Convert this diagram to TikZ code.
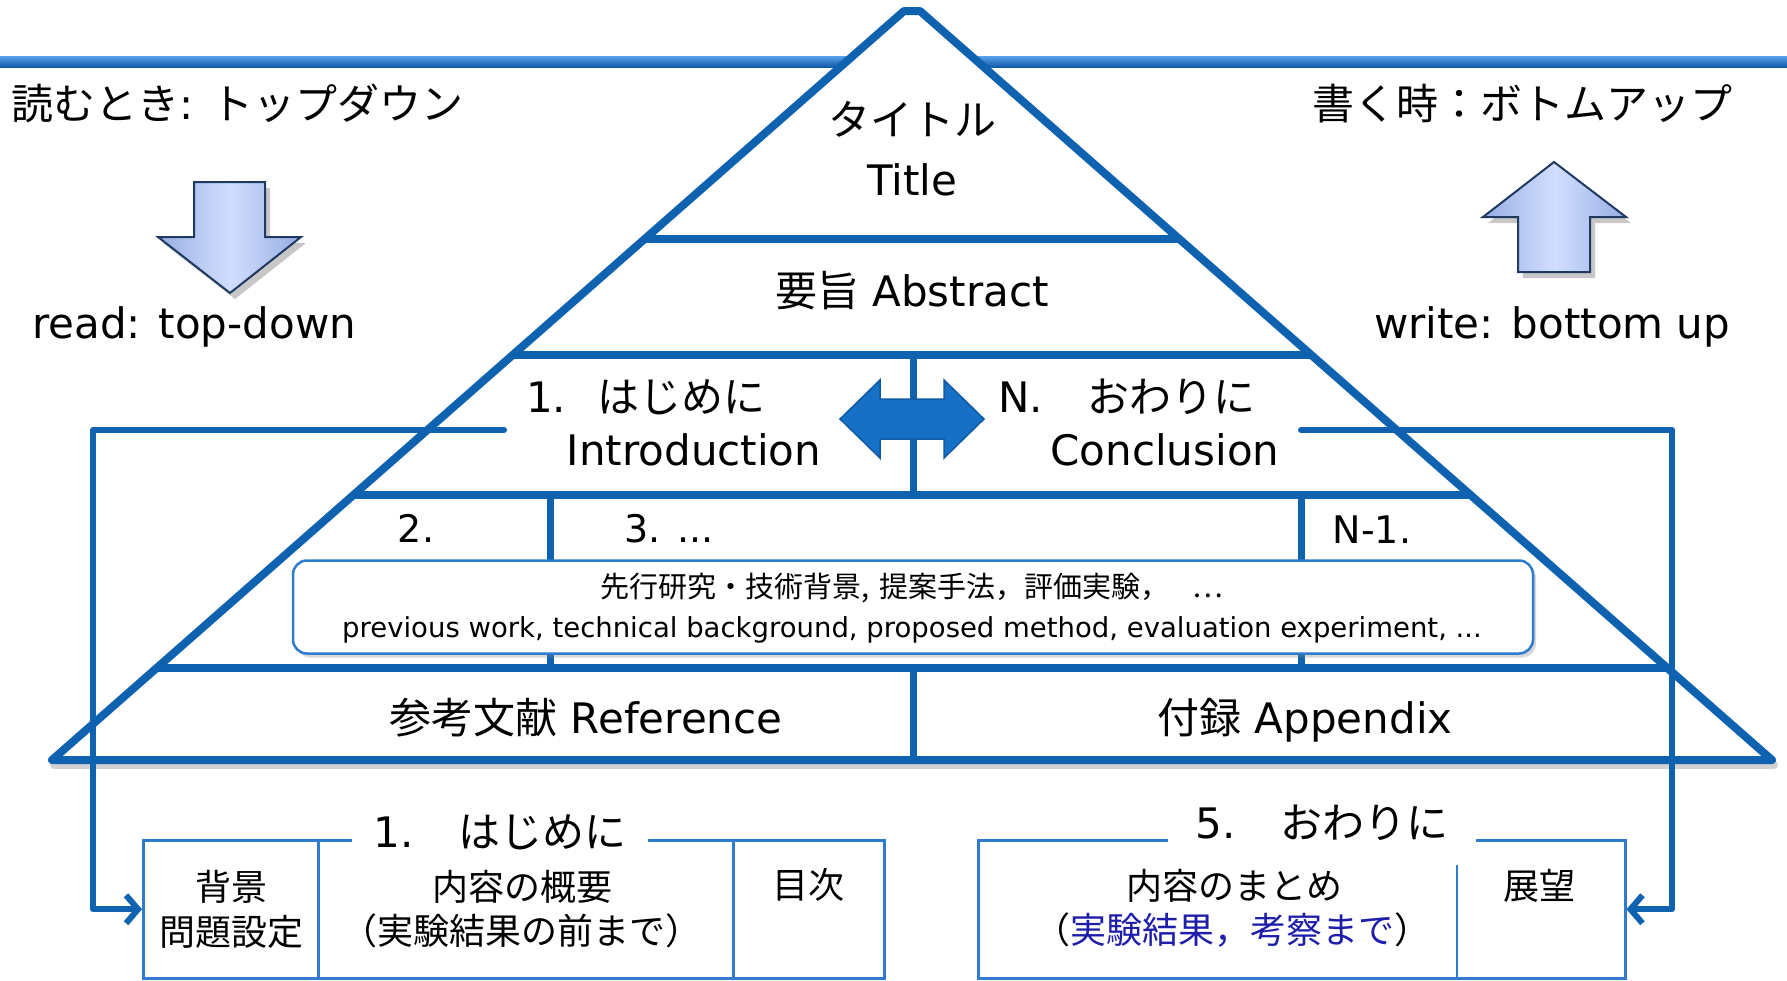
\documentclass[tikz,border=0pt]{standalone}
\usepackage{fontspec}
\setmainfont{DejaVu Sans}
\newfontfamily\jp{Noto Sans CJK JP}
\usetikzlibrary{arrows.meta,shadows,calc}
\definecolor{pblue}{HTML}{0F62B0}
\definecolor{bblue}{HTML}{2E7BD0}
\definecolor{abl}{HTML}{1570C6}
\definecolor{abd}{HTML}{0F5AA5}
\definecolor{navy}{HTML}{1F3A60}
\definecolor{tblue}{HTML}{1E1EAA}
\definecolor{toplt}{HTML}{5AA2EA}
\definecolor{topdk}{HTML}{0D5AA8}
\definecolor{arl}{HTML}{97ADE2}
\definecolor{arm}{HTML}{D2DEFF}
\newcommand{\fsz}[1]{\fontsize{#1}{#1}\selectfont}
\begin{document}
\begin{tikzpicture}[x=1pt,y=-1pt,
  pline/.style={draw=pblue,line width=8pt},
  vline/.style={draw=pblue,line width=7pt},
  conn/.style={draw=pblue,line width=6pt,line join=round,line cap=round,-{Straight Barb[length=12pt,width=28pt]}},
  cell/.style={draw=bblue,line width=2.5pt,inner sep=0,anchor=north west},
  txt/.style={inner sep=0,anchor=base,text=black},
  big/.style={txt,font=\fsz{42}},
  mid/.style={txt,font=\fsz{38}},
  sml/.style={txt,font=\fsz{36}},
  fat/.style={draw=navy,line width=2pt,line join=miter,left color=arl,right color=arl,middle color=arm},
  shd/.style={fill=black,opacity=.22},
]
\useasboundingbox (0,0) rectangle (1787,980);
\fill[white] (0,0) rectangle (1787,980);

% top line
\shade[top color=toplt,bottom color=topdk] (0,56) rectangle (1787,67);

% pyramid
\coordinate (A) at (904,11);
\coordinate (B) at (920,11);
\coordinate (L) at (52,760);
\coordinate (R) at (1772,760);
\draw[line width=8pt,black,opacity=.18,line cap=round] (54,765) -- (1774,765);
\fill[white] (L) -- (A) -- (B) -- (R) -- cycle;
\begin{scope}
\clip (L) -- (A) -- (B) -- (R) -- cycle;
\draw[pline] (0,239) -- (1787,239);
\draw[pline] (0,355) -- (1787,355);
\draw[pline] (0,495) -- (1787,495);
\draw[pline] (0,668) -- (1787,668);
\draw[vline] (913,355) -- (913,495);
\draw[vline] (550,495) -- (550,668);
\draw[vline] (1301,495) -- (1301,668);
\draw[vline] (913,668) -- (913,760);
\end{scope}
\draw[pline,line join=round] (L) -- (A) -- (B) -- (R) -- cycle;

% double arrow
\draw[fill=abl,draw=abd,line width=1.5pt]
  (840,419) -- (880,380) -- (880,399) -- (944,399) -- (944,380) -- (984,419)
  -- (944,458) -- (944,439) -- (880,439) -- (880,458) -- cycle;

% rounded box
\node[draw=bblue,line width=2.5pt,fill=white,rounded corners=14pt,minimum width=1240pt,minimum height=93pt,inner sep=0,
  drop shadow={shadow xshift=3pt,shadow yshift=-4pt,opacity=.3}] (rb) at (913,607) {};
\node[txt,font=\fsz{29}] (rb1) at (912,597) {\jp 先行研究・技術背景,\hspace{.35em}提案手法，評価実験，\hspace{.8em}…};
\node[txt,font=\fsz{27.5}] (rb2) at (912,637) {previous work, technical background, proposed method, evaluation experiment, ...};

% pyramid texts
\node[big] (tj) at (912,135) {\jp タイトル};
\node[big] (te) at (912,195) {Title};
\node[big] (ab) at (912,306) {{\jp 要旨} Abstract};
\node[big] (in1) at (646,412) {1.\hspace{.75em}{\jp はじめに}};
\node[big] (in2) at (694,465) {Introduction};
\node[big] (co1) at (1127,412) {N.\hspace{1.05em}{\jp おわりに}};
\node[big] (co2) at (1165,465) {Conclusion};
\node[mid] (s2) at (416,542) {2.};
\node[mid] (s3) at (669,542) {3. ...};
\node[mid] (sn) at (1372,543) {N-1.};
\node[big] (ref) at (586,733) {{\jp 参考文献} Reference};
\node[big] (app) at (1305,733) {{\jp 付録} Appendix};

% side texts
\node[big,anchor=base west] (rdj) at (11,119) {{\jp 読むとき}: {\jp トップダウン}};
\node[big,anchor=base west] (rde) at (32,338) {read: top-down};
\node[big,anchor=base west] (wrj) at (1312,119) {\jp 書く時：ボトムアップ};
\node[big,anchor=base west] (wre) at (1374,338) {write: bottom up};

% big arrows
\fill[shd] (199,188) -- (270,188) -- (270,243) -- (306,243) -- (235,299) -- (163,243) -- (199,243) -- cycle;
\draw[fat] (194,182) -- (265,182) -- (265,237) -- (301,237) -- (230,293) -- (158,237) -- (194,237) -- cycle;
\fill[shd] (1559,168) -- (1631,223) -- (1595,223) -- (1595,278) -- (1523,278) -- (1523,223) -- (1488,223) -- cycle;
\draw[fat] (1554,162) -- (1626,217) -- (1590,217) -- (1590,272) -- (1518,272) -- (1518,217) -- (1483,217) -- cycle;

% bottom boxes
\node[cell,minimum width=175pt,minimum height=138pt] (bg) at (142,839) {};
\node[cell,minimum width=415pt,minimum height=138pt] (nai) at (317,839) {};
\node[cell,minimum width=151pt,minimum height=138pt] (moku) at (732,839) {};
\node[big,fill=white,inner xsep=22pt,inner ysep=3pt] (ibt) at (500,847) {1.\hspace{1.05em}{\jp はじめに}};
\node[sml] (bg1) at (231,900) {\jp 背景};
\node[sml] (bg2) at (231,945) {\jp 問題設定};
\node[sml] (na1) at (522,900) {\jp 内容の概要};
\node[sml] (na2) at (521,944) {\jp （実験結果の前まで）};
\node[sml] (mk) at (808,898) {\jp 目次};

\node[cell,minimum width=647pt,minimum height=138pt] (cb) at (977,839) {};
\draw[draw=bblue,line width=2.5pt] (1457,865) -- (1457,977);
\node[big,fill=white,inner xsep=28pt,inner ysep=3pt] (cbt) at (1322,838) {5.\hspace{1.05em}{\jp おわりに}};
\node[sml] (cb1) at (1234,899) {\jp 内容のまとめ};
\node[sml] (cb2) at (1232,943) {\jp （\textcolor{tblue}{実験結果，考察まで}）};
\node[sml] (tb) at (1539,899) {\jp 展望};

% connectors
\coordinate (cL) at (504,430);
\coordinate (kL) at (93,430);
\draw[conn] (cL) -- (kL) |- (bg.west);
\coordinate (cR) at (1301,430);
\coordinate (kR) at (1672,430);
\draw[conn] (cR) -- (kR) |- (cb.east);
\end{tikzpicture}
\end{document}
